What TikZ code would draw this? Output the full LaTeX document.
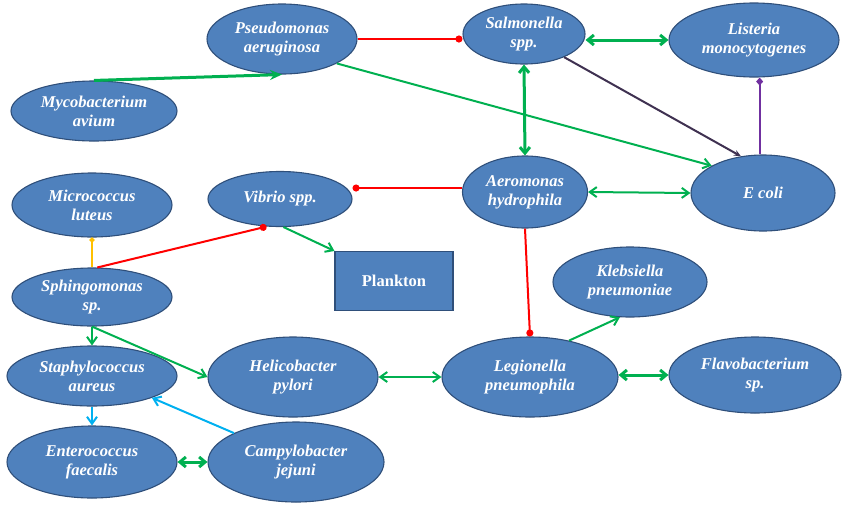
\documentclass[tikz,border=0pt]{standalone}
\usepackage{fontspec}
\setmainfont{Liberation Serif}
\usetikzlibrary{shapes.geometric,arrows.meta,calc}
\definecolor{nodefill}{HTML}{4F81BD}
\definecolor{nodeline}{HTML}{2F4F7A}
\definecolor{grn}{HTML}{00B050}
\definecolor{rd}{HTML}{FF0000}
\definecolor{blu}{HTML}{00B0F0}
\definecolor{ylw}{HTML}{FFC000}
\definecolor{dpurp}{HTML}{3F3151}
\definecolor{purp}{HTML}{7030A0}
\tikzset{
  bact/.style={ellipse, draw=nodeline, line width=1.1pt, fill=nodefill, inner sep=0pt,
    text=white, font=\fontsize{16.5}{19}\selectfont\bfseries\itshape, align=center},
  boxnode/.style={rectangle, draw=nodeline, line width=1.1pt, fill=nodefill, inner sep=0pt,
    text=white, font=\fontsize{16.5}{19}\selectfont\bfseries},
  thin/.style={line width=2pt},
  thick/.style={line width=3pt},
  gar/.style={grn, thin, -{Straight Barb[length=7pt,width=10pt]}},
  gdbl/.style={grn, thin, {Straight Barb[length=7pt,width=10pt]}-{Straight Barb[length=7pt,width=10pt]}},
  gthickdbl/.style={grn, thick, {Straight Barb[length=6pt,width=10pt]}-{Straight Barb[length=6pt,width=10pt]}},
  inhib/.style={rd, thin, -{Circle[length=7pt]}},
}
\begin{document}
\begin{tikzpicture}[x=1pt,y=-1pt]
\useasboundingbox (0,0) rectangle (851,504);
% nodes
\node[bact, minimum width=150, minimum height=70] (pseudo) at (282,39) {Pseudomonas\\aeruginosa};
\node[bact, minimum width=166, minimum height=60] (myco) at (94,111) {Mycobacterium\\avium};
\node[bact, minimum width=122, minimum height=60] (sal) at (524,34) {Salmonella\\spp.};
\node[bact, minimum width=170, minimum height=74] (list) at (754,40) {Listeria\\monocytogenes};
\node[bact, minimum width=125, minimum height=72] (aero) at (525,192) {Aeromonas\\hydrophila};
\node[bact, minimum width=144, minimum height=76] (ecoli) at (763,193) {E coli};
\node[bact, minimum width=144, minimum height=55] (vibrio) at (280,199) {Vibrio spp.};
\node[bact, minimum width=160, minimum height=64] (micro) at (92,205) {Micrococcus\\luteus};
\node[bact, minimum width=160, minimum height=58] (sphingo) at (92,297) {Sphingomonas\\sp.};
\node[boxnode, minimum width=118, minimum height=59] (plankton) at (394,281) {Plankton};
\node[bact, minimum width=154, minimum height=70] (kleb) at (630,282) {Klebsiella\\pneumoniae};
\node[bact, minimum width=176, minimum height=80] (legion) at (530,377) {Legionella\\pneumophila};
\node[bact, minimum width=172, minimum height=76] (flavo) at (755,375) {Flavobacterium\\sp.};
\node[bact, minimum width=170, minimum height=60] (staph) at (92,376) {Staphylococcus\\aureus};
\node[bact, minimum width=170, minimum height=80] (heli) at (293,377) {Helicobacter\\pylori};
\node[bact, minimum width=170, minimum height=72] (entero) at (92,462) {Enterococcus\\faecalis};
\node[bact, minimum width=176, minimum height=80] (campy) at (296,462) {Campylobacter\\jejuni};
% connectors
\draw[grn, thick, -{Stealth[length=12pt,width=10pt]}] (myco.north) -- (pseudo.south);
\draw[inhib] (pseudo.east) -- (pseudo.east -| sal.west);
\draw[gthickdbl] (list.west -| sal.east) -- (list.west);
\draw[gar] (pseudo.-24) -- (ecoli.152);
\draw[dpurp, thin, -{Stealth[length=7pt,width=6pt]}] (sal.-30) -- (ecoli.121);
\draw[purp, thin, -{Diamond[length=8pt,width=7pt]}] (ecoli.95) -- (list.south -| ecoli.95);
\draw[gthickdbl] (sal.south) -- (aero.north);
\draw[gdbl] (aero.east) -- (ecoli.west);
\draw[inhib] (aero.west |- 0,188) -- (vibrio.east |- 0,188);
\draw[inhib] (aero.south) -- (legion.north);
\draw[rd, thin, {Circle[length=7pt]}-] (vibrio.-116) -- (sphingo.80);
\draw[gar] (vibrio.-83) -- (plankton.north west);
\draw[ylw, thin, -{Circle[length=5pt]}] (sphingo.north) -- (micro.south);
\draw[gar] (sphingo.south) -- (staph.north);
\draw[gar] (sphingo.south) -- (heli.west);
\draw[gdbl] (heli.east) -- (legion.west);
\draw[gar] (legion.43) -- (kleb.-106);
\draw[gthickdbl] (legion.east |- flavo.west) -- (flavo.west);
\draw[blu, thin, -{Straight Barb[length=7pt,width=10pt]}] (staph.south) -- (entero.north);
\draw[blu, thin, -{Straight Barb[length=7pt,width=10pt]}] (campy.155) -- (staph.-20);
\draw[gthickdbl] (entero.east) -- (campy.west);
\end{tikzpicture}
\end{document}
